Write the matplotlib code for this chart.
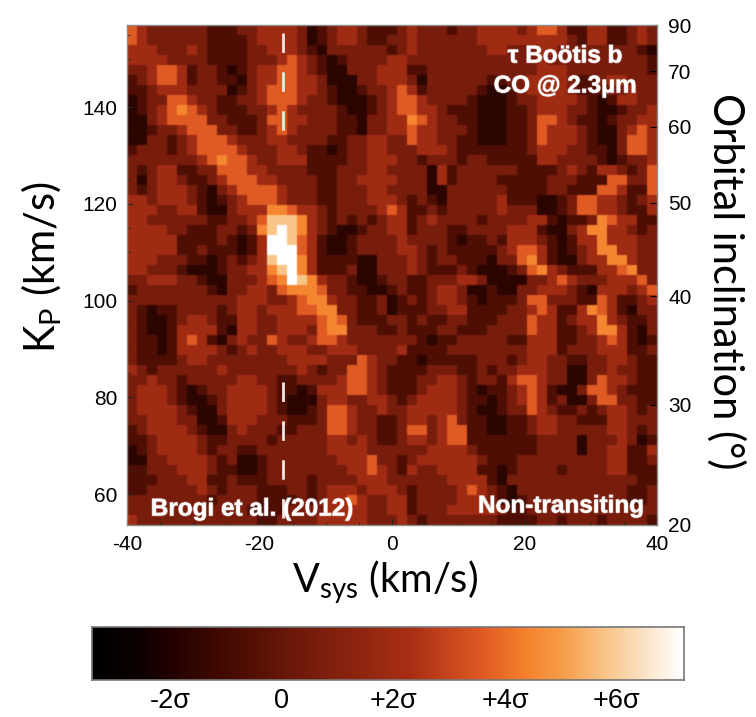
import numpy as np
import matplotlib
matplotlib.use("Agg")
import matplotlib.pyplot as plt
from matplotlib.colors import LinearSegmentedColormap, Normalize
import matplotlib.patheffects as pe

W, H = 756, 717
plt.rcParams['font.family'] = ['Liberation Sans', 'DejaVu Sans']
plt.rcParams['axes.unicode_minus'] = False

# Heat-map levels, one string per Kp row, top row first.
# Left block: Vsys columns 0-27; right block: columns 28-52.
rows_left = [
"4322222211122333320123321112","4322222211112333320123321122","3332223211112233321022222212","3333222211112223432101222233",
"2234431221012334432100222333","1234431221102334433200022333","1123332222012344433210012234","0122443221122344432210001234",
"0123454321112234322221001234","0023444422111244332221102233","0012234442211234322221102233","0022123444322233222211223322",
"1222123444432223321101223322","2222222345443223331111223332","2123311224443322221112223322","2023321123444332222112233332",
"2123332102344443222112223322","3323332101234443222112223332","3332233100233355433212222343","3322222211223466653212121233",
"3333221112212567653210012233","3333311112101377643100122223","3333311211101377743100122223","3332221101212367753111100222",
"3322210001223356753111200222","2233322100222345765322100122","1222222210223324555422110012","2222222222233322345532211201",
"2101122221233233344552211201","2100123321133223333454211122","2100133331033223332455222112","2110134310232243223443222222",
"2110133332123223332233322223","2111123322222222333322243221","3212222223222222232122443211","2232212222233221122223443211",
"2333210122333321101333443211","2333210012333321000233223321","2333321002333321001244322322","2233322001333222111244322112",
"1233332100232221122244322112","1123333211222212222233232112","0123333212211222222233332222","0022333321200122222223334221",
"1122233321100122222222334321","1112223311211122221222233322","1122222321222111221233323332","2222222212222111121233432233",
"2222222222221111222233332233","3222222222222112222333332223",
]
rows_right = [
"3222122333323443113311232","3222222333333333213311232","3222222233222332222222210","2222222222222322222222221",
"1122222222222333222222221","2022222211223333211233222","3122222100123333211122322","4322221000122333321013322",
"4332111000112333221001223","5432211000112443211012233","4332221000112433321002343","4332211000112433321002443",
"2333211111112333221102443","2122212211111332222101223","2203122222211112321332124","2203122221111122211144224",
"2200222222111122111443114","1210222223111001244332123","1121222223222001244332113","1232222122223310112543311",
"1222112222333100235533212","2222101121333210133533322","3212111112344310123553322","3212211102245310023355322",
"3211121000124532111334522","1122233200002234322233342","1123320010022333210333234","2123321011124422211431123",
"1122331111223431135431022","1211221112224331233532112","1112211122224331123553102","2101122222113331122343101",
"1111222222223331222333112","1011111222123322112233211","1122211212233322002232211","1223321221344322002433211",
"1233321011234310024432111","2333321101234312002442211","3333321001224321121233212","3323421100112332211133222",
"4423441100112332222233212","3323441111111222202223201","2233332111111222202233113","2333333211122222222233112",
"3223333110122221222233111","2222333310222222222222211","1222234321022222222222112","1222233321012222222222112",
"1222333332112222222222222","2122222221111221222122221",
]
level_sigma = [-1.7, -0.7, 0.6, 2.0, 3.6, 4.5, 5.8, 7.2]

kp_ticks = [60, 80, 100, 120, 140]
vsys_ticks = [-40, -20, 0, 20, 40]
incl_ticks = [20, 30, 40, 50, 60, 70, 90]
cbar_ticks = [-2, 0, 2, 4, 6]
cbar_labels = ["-2σ", "0", "+2σ", "+4σ", "+6σ"]

stops = [(-3.4, (0, 0, 0)), (-2.6, (12, 0, 0)), (-1.9, (38, 3, 0)), (-0.9, (72, 12, 2)), (0.5, (118, 28, 12)),
         (2.3, (168, 46, 20)), (3.6, (224, 90, 36)), (4.4, (245, 130, 45)), (5.0, (246, 155, 70)),
         (5.8, (248, 196, 135)), (6.7, (253, 235, 215)), (7.2, (255, 255, 255))]
lo, hi = -3.4, 7.2
cmap = LinearSegmentedColormap.from_list(
    "co", [((s - lo) / (hi - lo), tuple(c / 255 for c in col)) for s, col in stops])
norm = Normalize(lo, hi)

grid = []
for a, b in zip(rows_left, rows_right):
    grid.append([level_sigma[int(ch)] for ch in (a + b)])
grid = np.array(grid)
# repeat each cell so that resampling softens only the cell edges, as in the reference
display = np.repeat(np.repeat(grid, 4, axis=0), 4, axis=1)

KP_BOTTOM, KP_TOP = 53.6, 157.0
fig = plt.figure(figsize=(W / 100, H / 100), dpi=100, facecolor="white")

def box(x0, y0, x1, y1):
    return [x0 / W, 1 - y1 / H, (x1 - x0) / W, (y1 - y0) / H]

ax = fig.add_axes(box(127, 25, 657, 525))
ax.imshow(display, extent=[-40, 40, KP_BOTTOM, KP_TOP], aspect="auto", cmap=cmap, norm=norm,
          interpolation="hanning", origin="upper")
ax.set_xlim(-40, 40)
ax.set_ylim(KP_BOTTOM, KP_TOP)

ax.plot([-16.5, -16.5], [155.3, 134.6], color="#f0e6e6", lw=2, ls=(0, (7, 7)))
ax.plot([-16.5, -16.5], [83.1, 54.2], color="#f0e6e6", lw=2, ls=(0, (7, 7)))

ax.set_xticks(vsys_ticks)
ax.set_yticks(kp_ticks)
ax.tick_params(axis="both", direction="in", length=4, width=0.8, labelsize=15, pad=7, color="#222222")
ax.set_xticks(np.arange(-40, 41, 5), minor=True)
ax.set_yticks(np.arange(60, 156, 5), minor=True)
ax.tick_params(which="minor", direction="in", length=2, width=0.6, color="#222222")
for s in ax.spines.values():
    s.set_color("#8a8a8a")
    s.set_linewidth(1.0)

K = 156.95
ax2 = ax.secondary_yaxis("right", functions=(lambda k: k, lambda k: k))
ax2.set_yticks([K * np.sin(np.radians(i)) for i in incl_ticks])
ax2.set_yticklabels([str(i) for i in incl_ticks], fontsize=15)
ax2.tick_params(axis="y", direction="in", length=5, width=0.8, pad=8)
ax2.spines["right"].set_visible(False)

def px(x, y, s, **kw):
    return fig.text(x / W, 1 - y / H, s, **kw)

label_font = ['Lato', 'DejaVu Sans']
px(42, 267, "K$_{\\mathregular{P}}$ (km/s)", rotation=90, fontsize=30, ha="center", va="center", family=label_font)
px(385, 582, "V$_{\\mathregular{sys}}$ (km/s)", fontsize=28.5, ha="center", va="center", family=label_font)
px(726, 281, "Orbital inclination (°)", rotation=270, fontsize=30, ha="center", va="center", family=label_font)

halo = [pe.withStroke(linewidth=1.2, foreground=(1, 1, 1, 0.35))]
txt = dict(color="white", fontweight="bold", fontsize=17.5, ha="center", va="center", path_effects=halo)
px(565, 56, "τ Boötis b", **txt)
px(565, 86, "CO @ 2.3µm", **txt)
px(252, 509, "Brogi et al. (2012)", **txt)
px(561, 506, "Non-transiting", **txt)

cax = fig.add_axes(box(92, 627, 684, 680))
grad = np.linspace(lo, hi, 512)[None, :]
cax.imshow(grad, extent=[lo, hi, 0, 1], aspect="auto", cmap=cmap, norm=norm)
cax.set_yticks([])
cax.set_xticks(cbar_ticks)
cax.set_xticklabels(cbar_labels, fontsize=19.5)
cax.tick_params(axis="x", length=0, pad=6)
for s in cax.spines.values():
    s.set_color("#777777")
    s.set_linewidth(1.2)

fig.savefig("out.png", dpi=100, facecolor="white")
